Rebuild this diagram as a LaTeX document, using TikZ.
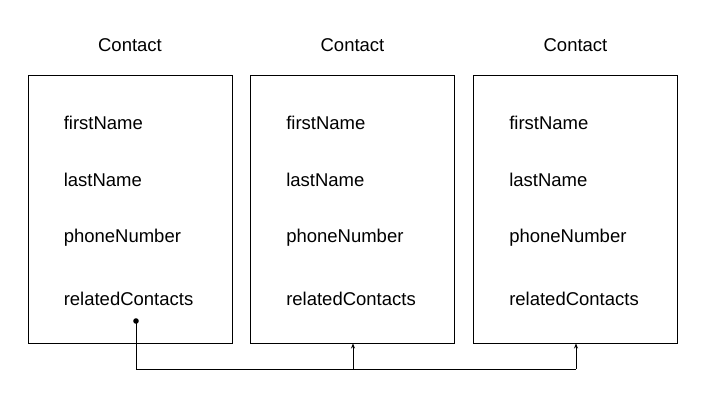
\documentclass[tikz,border=0pt]{standalone}
\usepackage{fontspec}
\setmainfont{Liberation Sans}
\usetikzlibrary{arrows.meta}
\begin{document}
\begin{tikzpicture}[x=1pt,y=-1pt,
  entity/.style={draw,line width=0.9pt,minimum width=204pt,minimum height=268pt,inner sep=0pt},
  title/.style={font=\fontsize{18.5}{20}\selectfont,inner sep=0pt},
  field/.style={font=\fontsize{18.5}{20}\selectfont,inner sep=0pt,anchor=west},
  link/.style={line width=0.9pt},
  tip/.style={-{Stealth[length=5pt,width=4pt]}}]
\useasboundingbox (0,0) rectangle (720,400);
% three Contact records
\foreach \n/\cx in {a/130, b/352.5, c/575.5}{
  \node[entity] (\n) at (\cx,209) {};
  \node[title] (\n-title) at (\cx,45) {Contact};
  \node[field] (\n-first) at ([xshift=36pt]\n.west |- 0,123) {firstName};
  \node[field] (\n-last) at ([xshift=36pt]\n.west |- 0,180) {lastName};
  \node[field] (\n-phone) at ([xshift=36pt]\n.west |- 0,237.5) {phoneNumber};
  \node[field] (\n-rel) at ([xshift=36pt]\n.west |- 0,298.5) {relatedContacts};
}
% relatedContacts reference line
\coordinate (src) at (136,321);
\coordinate (bus-l) at (136,369);
\coordinate (bus-m) at (353,369);
\coordinate (bus-r) at (576,369);
\fill (src) circle (2.8pt);
\draw[link] (src) -- (bus-l) -- (bus-r);
\draw[link,tip] (bus-m) -- (bus-m |- b.south);
\draw[link,tip] (bus-r) -- (bus-r |- c.south);
\end{tikzpicture}
\end{document}
